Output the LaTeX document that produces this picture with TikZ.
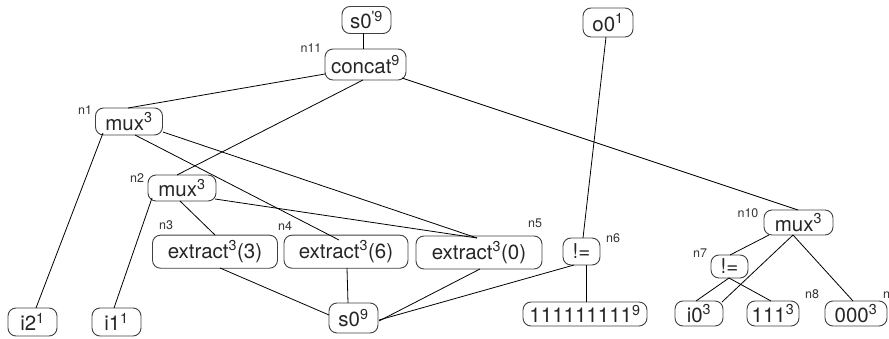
\documentclass[tikz,border=0pt]{standalone}
\usepackage{fontspec}
\setmainfont{TeX Gyre Heros}
\usetikzlibrary{calc}
\begin{document}
\begin{tikzpicture}[x=1pt,y=-1pt,
  op/.style={draw=black!75, rounded corners=8pt, inner sep=0pt, line width=0.9pt,
             font=\fontsize{20.5}{24}\selectfont, text=black!85},
  tag/.style={inner sep=0pt, font=\fontsize{12.5}{15}\selectfont, text=black!80},
  wire/.style={draw=black, line width=0.8pt}]
\useasboundingbox (0,0) rectangle (889,339);
\clip (0,0) rectangle (889,339);

% operator and leaf nodes
\node[op, minimum width=49pt, minimum height=27pt] (s0p)   at (366.5,20)   {s0\textsuperscript{\textquotesingle9}};
\node[op, minimum width=81pt, minimum height=31pt] (concat) at (365.5,64.5) {concat\textsuperscript{9}};
\node[op, minimum width=50pt, minimum height=29pt] (o0)    at (608,22.5)   {o0\textsuperscript{1}};
\node[op, minimum width=67pt, minimum height=27pt] (muxa)  at (129,121.5)  {mux\textsuperscript{3}};
\node[op, minimum width=68pt, minimum height=26pt] (muxb)  at (182,188)    {mux\textsuperscript{3}};
\node[op, minimum width=125pt, minimum height=33pt] (exa)  at (215,251.7)  {extract\textsuperscript{3}(3)};
\node[op, minimum width=124pt, minimum height=33pt] (exb)  at (346,251.7)  {extract\textsuperscript{3}(6)};
\node[op, minimum width=126pt, minimum height=33pt] (exc)  at (479,252.5)  {extract\textsuperscript{3}(0)};
\node[op, minimum width=37pt, minimum height=27pt] (nea)   at (581.5,251.5) {!=};
\node[op, minimum width=124pt, minimum height=24pt] (ones) at (585,314)    {111111111\textsuperscript{9}};
\node[op, minimum width=69pt, minimum height=25pt] (muxc)  at (798.5,222.5) {mux\textsuperscript{3}};
\node[op, minimum width=37pt, minimum height=23pt] (neb)   at (729.5,266.5) {!=};
\node[op, minimum width=48pt, minimum height=25pt] (izero) at (699,313.5)  {i0\textsuperscript{3}};
\node[op, minimum width=52pt, minimum height=25pt] (cone)  at (773,313.5)  {111\textsuperscript{3}};
\node[op, minimum width=62pt, minimum height=25pt] (czero) at (856,313.5)  {000\textsuperscript{3}};
\node[op, minimum width=49pt, minimum height=28pt] (itwo)  at (32.5,322)   {i2\textsuperscript{1}};
\node[op, minimum width=49pt, minimum height=28pt] (ione)  at (116.5,322)  {i1\textsuperscript{1}};
\node[op, minimum width=49pt, minimum height=30pt] (szero) at (353.5,318)  {s0\textsuperscript{9}};

% node tags
\node[tag] (t11) at (311,48)  {n11};
\node[tag] (t1)  at (85,110)  {n1};
\node[tag] (t2)  at (137,178) {n2};
\node[tag] (t3)  at (166,225) {n3};
\node[tag] (t4)  at (285,226) {n4};
\node[tag] (t5)  at (535,223) {n5};
\node[tag] (t6)  at (613,238) {n6};
\node[tag] (t10) at (748,213) {n10};
\node[tag] (t7)  at (700,253) {n7};
\node[tag] (t8)  at (812,294) {n8};
\node[tag, anchor=west] (t9) at (883,294) {n9};

% connections
\draw[wire] ($(s0p)+(-3.5,13)$) -- ($(concat)+(-2.5,-15.5)$);
\draw[wire] ($(concat)+(-40.5,9.5)$) -- ($(muxa)+(-1,-13.5)$);
\draw[wire] ($(concat)+(-2.5,15.5)$) -- ($(muxb)+(-5,-13)$);
\draw[wire] ($(concat)+(36.5,13.5)$) -- ($(muxc)+(-0.5,-12.5)$);
\draw[wire] ($(o0)+(-2,14.5)$) -- ($(nea)+(1.5,-13.5)$);
\draw[wire] ($(muxa)+(-26,11.5)$) -- ($(itwo)+(3.5,-14)$);
\draw[wire] ($(muxa)+(6,13.5)$) -- ($(exb)+(-7,-11.7)$);
\draw[wire] ($(muxa)+(34,10.5)$) -- ($(exc)+(-2,-14.5)$);
\draw[wire] ($(muxb)+(-2,13)$) -- ($(exa)+(0,-16.7)$);
\draw[wire] ($(muxb)+(33,11)$) -- ($(exc)+(-2,-14.5)$);
\draw[wire] ($(muxb)+(-30,10)$) -- ($(ione)+(-2.5,-14)$);
\draw[wire] ($(exa)+(5,16.3)$) -- ($(szero)+(-24.5,-3)$);
\draw[wire] ($(exb)+(1,16.3)$) -- ($(szero)+(-5.5,-15)$);
\draw[wire] ($(exc)+(1,16.5)$) -- ($(szero)+(25.5,3)$);
\draw[wire] ($(nea)+(-7.5,13.5)$) -- ($(szero)+(25.5,2)$);
\draw[wire] ($(nea)+(4.5,13.5)$) -- ($(ones)+(1,-12)$);
\draw[wire] ($(muxc)+(-29.5,12.5)$) -- ($(neb)+(0.5,-11.5)$);
\draw[wire] ($(muxc)+(-5.5,12.5)$) -- ($(izero)+(23,-11.5)$);
\draw[wire] ($(muxc)+(-5.5,12.5)$) -- ($(czero)+(-3,-12.5)$);
\draw[wire] ($(neb)+(-0.5,11.5)$) -- ($(izero)+(-3,-12.5)$);
\draw[wire] ($(neb)+(-0.5,11.5)$) -- ($(cone)+(-2,-12.5)$);
\end{tikzpicture}
\end{document}
